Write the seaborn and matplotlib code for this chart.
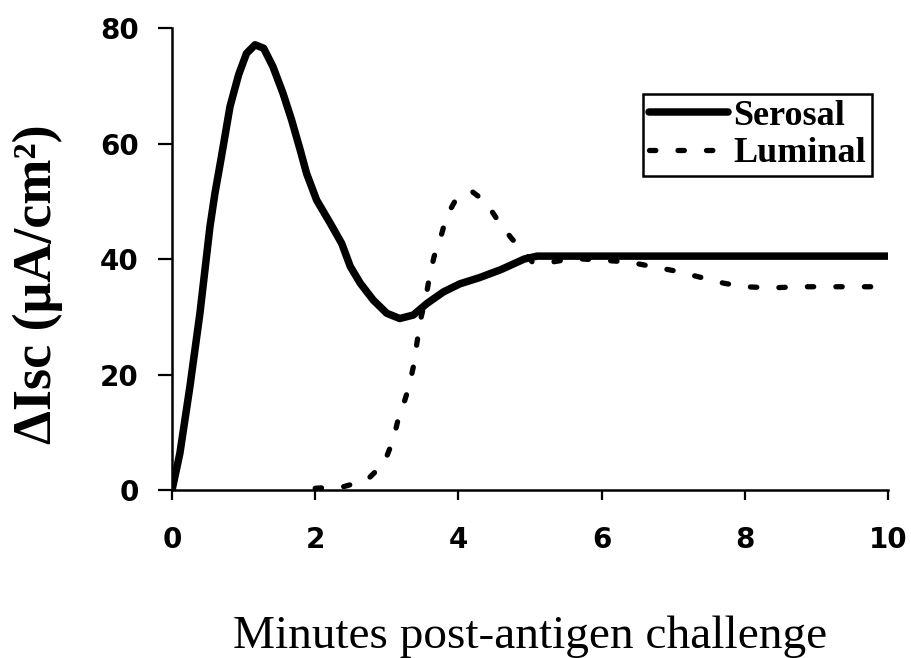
import matplotlib
matplotlib.use("Agg")
import matplotlib.pyplot as plt
import seaborn as sns
import pandas as pd

# Serosal challenge
serosal_min = [0, 0.11, 0.25, 0.39, 0.53, 0.6, 0.69, 0.81, 0.93, 1.04, 1.16, 1.28, 1.41, 1.55, 1.67,
               1.79, 1.88, 2.02, 2.21, 2.37, 2.49, 2.63, 2.81, 3.0, 3.18, 3.37, 3.56, 3.79, 4.02,
               4.3, 4.6, 4.92, 5.1, 6.0, 8.0, 10.0]
serosal_isc = [0, 6.35, 17.9, 30.6, 45.6, 51.4, 57.7, 66.4, 71.9, 75.6, 77.1, 76.5, 73.3, 68.7, 64.1,
               58.9, 54.8, 50.2, 46.2, 42.7, 38.7, 35.8, 32.9, 30.6, 29.7, 30.3, 32.3, 34.3, 35.7,
               36.8, 38.2, 40.0, 40.5, 40.5, 40.5, 40.5]

# Luminal challenge
luminal_min = [2.0, 2.4, 2.72, 2.96, 3.09, 3.15, 3.23, 3.31, 3.37, 3.42, 3.47, 3.55, 3.6, 3.66, 3.77,
               3.83, 3.96, 4.08, 4.2, 4.38, 4.55, 4.74, 4.92, 5.03, 5.32, 5.61, 6.37, 6.75, 7.0, 7.36,
               7.71, 8.0, 8.38, 8.73, 9.0, 9.43, 10.0]
luminal_isc = [0.3, 0.6, 1.7, 4.6, 8.7, 11.8, 14.7, 17.9, 21.3, 25.4, 29.4, 33.7, 37.2, 40.4, 44.5,
               47.3, 50.2, 51.4, 51.6, 49.9, 46.7, 43.6, 41.2, 39.5, 39.5, 40.1, 39.5, 38.6, 38.0, 36.9,
               35.8, 35.2, 35.0, 35.2, 35.2, 35.2, 35.2]

series_names = ["Serosal", "Luminal"]
x_ticks = [0, 2, 4, 6, 8, 10]
y_ticks = [0, 20, 40, 60, 80]

df_s = pd.DataFrame({"Minutes": serosal_min, "Isc": serosal_isc})
df_l = pd.DataFrame({"Minutes": luminal_min, "Isc": luminal_isc})

sns.set_theme(style="white")
plt.rcParams["font.family"] = ["Liberation Serif", "DejaVu Serif"]
for k in ["text.color", "axes.labelcolor", "xtick.color", "ytick.color", "axes.edgecolor"]:
    plt.rcParams[k] = "black"

fig = plt.figure(figsize=(9.12, 6.58), dpi=100)
ax = fig.add_axes([0.1886, 0.2553, 0.7851, 0.7021])

sns.lineplot(data=df_s, x="Minutes", y="Isc", ax=ax, color="black", linewidth=5.4,
             label=series_names[0], solid_capstyle="round", solid_joinstyle="round")
sns.lineplot(data=df_l, x="Minutes", y="Isc", ax=ax, color="black", linewidth=3.8,
             label=series_names[1], linestyle=(0, (1.2, 4.2)), dash_capstyle="round")

ax.set_xlim(0, 10)
ax.set_ylim(0, 80)
ax.set_xticks(x_ticks)
ax.set_yticks(y_ticks)
for lab in ax.get_xticklabels() + ax.get_yticklabels():
    lab.set_fontfamily("DejaVu Sans")
    lab.set_fontweight("bold")
    lab.set_fontsize(20)
ax.tick_params(axis="y", direction="out", length=10, width=1.6, color="black", pad=14, left=True)
ax.tick_params(axis="x", direction="out", length=7, width=1.6, color="black", pad=19, bottom=True)

for side in ["top", "right"]:
    ax.spines[side].set_visible(False)
for side in ["left", "bottom"]:
    ax.spines[side].set_color("black")
    ax.spines[side].set_linewidth(1.8)

ax.set_xlabel("Minutes post-antigen challenge", fontsize=34, labelpad=44)
ax.set_ylabel("ΔIsc (μA/cm²)", fontsize=39, fontweight="bold")
ax.yaxis.set_label_coords(-0.152, 0.445)

leg = ax.legend(loc="upper right", bbox_to_anchor=(0.977, 0.857), frameon=True, fancybox=False,
                prop={"family": "Liberation Serif", "weight": "bold", "size": 26},
                handlelength=2.2, handletextpad=0.15, borderpad=0.15, labelspacing=0.12,
                borderaxespad=0)
leg.get_frame().set_edgecolor("black")
leg.get_frame().set_linewidth(1.8)
leg.get_frame().set_alpha(1)

fig.savefig("out.png", dpi=100, facecolor="white")
